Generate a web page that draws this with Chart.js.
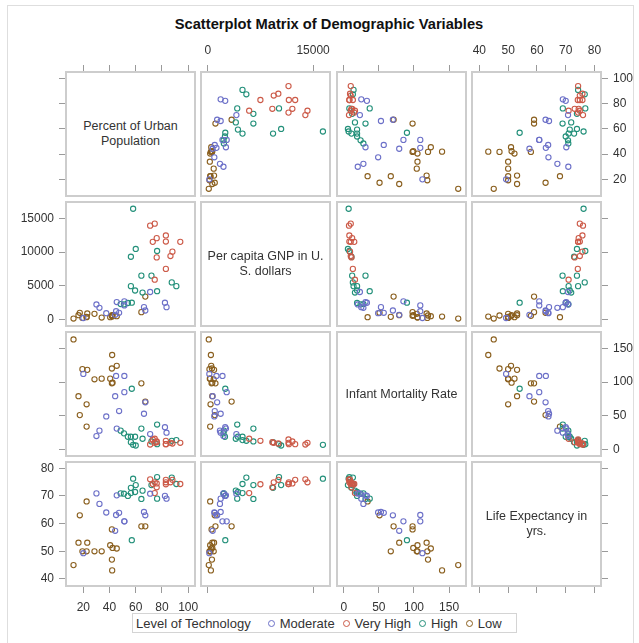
<!DOCTYPE html>
<html>
<head>
<meta charset="utf-8">
<script src="https://cdn.jsdelivr.net/npm/chart.js@4.4.1/dist/chart.umd.min.js"></script>
<style>
  body { margin: 0; width: 639px; height: 643px; overflow: hidden; background: #fff;
         font-family: 'Liberation Sans', Arial, sans-serif; position: relative; }
  #frame { position: absolute; left: 7px; top: 5px; width: 625px; height: 640px; border: 1px solid #dedede; }
  #title { position: absolute; left: 0; top: 16px; width: 658px; text-align: center;
           font-weight: bold; font-size: 14.7px; color: #111; }
  .panel { position: absolute; box-sizing: border-box; border: 2px solid #cdcdcd; }
  .diag { position: absolute; display: flex; align-items: center; justify-content: center;
          text-align: center; font-size: 12.5px; line-height: 15px; color: #333; }
  canvas { position: absolute; }
  #legend { position: absolute; left: 132px; top: 613px; width: 385px; height: 20px; box-sizing: border-box;
            border: 1px solid #d4d4d4; display: flex; align-items: center; font-size: 13px; color: #333; }
  #legend .ttl { margin-left: 3px; margin-right: 17px; }
  #legend .item { display: flex; align-items: center; margin-right: 8px; }
  #legend .mk { width: 5px; height: 5px; border-radius: 50%; border: 1.2px solid; margin-right: 5px; }
</style>
</head>
<body>
<div id="frame"></div>
<div id="title">Scatterplot Matrix of Demographic Variables</div>
<div id="legend"></div>
<script>
// one row per country, grouped by level of technology
const urban = [
  20, 30, 32.3, 37.5, 45.5, 47.3, 45, 44.3, 51.3, 51.3, 66.3, 67.3, 82.3, 83.5, 71,
  71, 74.5, 83, 83, 94, 76, 73, 88, 86.5, 76, 83, 74.5,
  58, 60, 56.3, 76.3, 64.3, 72, 87.5, 91, 56.3, 59.5, 65.2, 76.3, 54, 51, 48.5, 57,
  12.5, 16.3, 17.3, 22.5, 19.3, 23, 22.5, 28.5, 34, 40.5, 41.8, 42.3, 45.5, 41.8, 42, 64.3, 67.3
];
const gnp = [
  230, 2240, 1740, 940, 2590, 1000, 1240, 700, 2700, 2100, 1840, 1340, 2490, 1840, 4080,
  13900, 14200, 12450, 11550, 11500, 12050, 11500, 10050, 9400, 9200, 7500, 5900,
  16400, 10450, 9300, 10150, 6500, 6500, 5500, 4950, 4950, 4300, 4000, 4200, 2450, 2250, 2300, 2500,
  150, 650, 1000, 350, 250, 900, 400, 850, 300, 350, 550, 650, 500, 600, 450, 1100, 3400
];
const infantMort = [
  112, 20, 28, 49, 31, 57, 109, 79, 85, 109, 53, 70, 33, 25, 23,
  7.5, 10, 8, 8, 10, 12, 15, 9, 10, 11, 13, 16,
  7, 6, 11, 8, 31, 12, 13, 14, 19, 19, 16, 37, 19, 24, 28, 90,
  163, 79, 51, 34, 119, 118, 67, 104, 105, 105, 98, 99, 124, 120, 140, 98, 71
];
const lifeExp = [
  49.3, 70.9, 67.1, 64, 70.2, 63.9, 63.1, 57.4, 60.8, 60.8, 64.2, 63, 70, 69, 70.8,
  76, 74.9, 75.8, 74.9, 74.3, 74.5, 74.3, 75.8, 74.9, 73.1, 74.2, 71,
  76.2, 73.9, 72.9, 76.8, 68.9, 73.9, 76.6, 74.3, 71, 71.4, 71.9, 69, 70, 70.8, 70.9, 54,
  45, 53.1, 63, 68, 50, 53.1, 50, 50, 50, 52.2, 57.9, 51.2, 51, 47, 43.1, 59, 59
];
const tech = [
  'Moderate', 'Moderate', 'Moderate', 'Moderate', 'Moderate', 'Moderate', 'Moderate', 'Moderate',
  'Moderate', 'Moderate', 'Moderate', 'Moderate', 'Moderate', 'Moderate', 'Moderate',
  'Very High', 'Very High', 'Very High', 'Very High', 'Very High', 'Very High',
  'Very High', 'Very High', 'Very High', 'Very High', 'Very High', 'Very High',
  'High', 'High', 'High', 'High', 'High', 'High', 'High', 'High',
  'High', 'High', 'High', 'High', 'High', 'High', 'High', 'High',
  'Low', 'Low', 'Low', 'Low', 'Low', 'Low', 'Low', 'Low', 'Low',
  'Low', 'Low', 'Low', 'Low', 'Low', 'Low', 'Low', 'Low'
];

const techLevels = ['Moderate', 'Very High', 'High', 'Low'];
const techColors = ['#6c70c8', '#cc5a48', '#23907a', '#8a5f1e'];

// tick labels
const urbanTicks = [20, 40, 60, 80, 100];
const gnpTicksX = [0, 15000];
const gnpTicksY = [0, 5000, 10000, 15000];
const mortTicks = [0, 50, 100, 150];
const lifeTicks = [40, 50, 60, 70, 80];

const varLabels = [
  ['Percent of Urban', 'Population'],
  ['Per capita GNP in U.', 'S. dollars'],
  ['Infant Mortality Rate'],
  ['Life Expectancy in', 'yrs.']
];

const vars = [
  { values: urban, min: 6, max: 106, xTicks: urbanTicks, yTicks: urbanTicks },
  { values: gnp, min: -1100, max: 17550, xTicks: gnpTicksX, yTicks: gnpTicksY },
  { values: infantMort, min: -11, max: 175.5, xTicks: mortTicks, yTicks: mortTicks },
  { values: lifeExp, min: 37.1, max: 82.6, xTicks: lifeTicks, yTicks: lifeTicks }
];

// layout of the 4x4 grid
const colX = [65, 200, 336, 471];
const rowY = [71, 201, 331, 461];
const PW = 131, PH = 126, M = 48;

Chart.defaults.font.family = "'Liberation Sans', Arial, sans-serif";
Chart.defaults.font.size = 12;
Chart.defaults.color = '#333';

function axisOpts(v, pos, showLabels, tickVals, horizontal) {
  return {
    type: 'linear',
    min: v.min,
    max: v.max,
    position: pos || (horizontal ? 'bottom' : 'left'),
    display: !!pos,
    grid: { drawOnChartArea: false, drawTicks: true, tickLength: 6, color: '#9a9a9a', tickColor: '#9a9a9a' },
    border: { display: false },
    ticks: {
      display: showLabels, autoSkip: false, maxRotation: 0, padding: horizontal ? 7 : 5, color: '#333',
      callback: val => String(val)
    },
    afterBuildTicks: s => { s.ticks = tickVals.map(t => ({ value: t })); },
    afterFit: s => {
      if (!pos) return;
      if (horizontal) s.height = M; else s.width = M;
    }
  };
}

function makePanel(r, c) {
  const box = document.createElement('div');
  box.className = 'panel';
  box.style.left = colX[c] + 'px';
  box.style.top = rowY[r] + 'px';
  box.style.width = PW + 'px';
  box.style.height = PH + 'px';
  document.body.appendChild(box);

  if (r === c) {
    const lbl = document.createElement('div');
    lbl.className = 'diag';
    lbl.style.left = colX[c] + 'px';
    lbl.style.top = rowY[r] + 'px';
    lbl.style.width = PW + 'px';
    lbl.style.height = PH + 'px';
    lbl.innerHTML = varLabels[r].join('<br>');
    document.body.appendChild(lbl);
  }

  const xPos = r === 0 ? 'top' : (r === 3 ? 'bottom' : null);
  const yPos = c === 0 ? 'left' : (c === 3 ? 'right' : null);
  if (r === c && !xPos && !yPos) return;

  const showX = (xPos === 'top' && (c === 1 || c === 3)) || (xPos === 'bottom' && (c === 0 || c === 2));
  const showY = (yPos === 'left' && (r === 1 || r === 3)) || (yPos === 'right' && (r === 0 || r === 2));

  const cv = document.createElement('canvas');
  cv.width = PW + 2 * M;
  cv.height = PH + 2 * M;
  cv.style.left = (colX[c] - M) + 'px';
  cv.style.top = (rowY[r] - M) + 'px';
  document.body.appendChild(cv);

  let datasets = [];
  if (r !== c) {
    datasets = techLevels.map((lvl, i) => {
      const pts = [];
      tech.forEach((t, k) => {
        if (t === lvl) pts.push({ x: vars[c].values[k], y: vars[r].values[k] });
      });
      return {
        label: lvl,
        data: pts,
        pointStyle: 'circle',
        pointRadius: 2.6,
        pointBorderWidth: 1.1,
        borderColor: techColors[i],
        backgroundColor: 'rgba(0,0,0,0)'
      };
    });
  }

  new Chart(cv, {
    type: 'scatter',
    data: { datasets: datasets },
    options: {
      responsive: false,
      animation: false,
      devicePixelRatio: 1,
      layout: {
        padding: {
          left: yPos === 'left' ? 0 : M,
          right: yPos === 'right' ? 0 : M,
          top: xPos === 'top' ? 0 : M,
          bottom: xPos === 'bottom' ? 0 : M
        }
      },
      plugins: { legend: { display: false }, tooltip: { enabled: false } },
      scales: {
        x: axisOpts(vars[c], xPos, showX, vars[c].xTicks, true),
        y: axisOpts(vars[r], yPos, showY, vars[r].yTicks, false)
      }
    }
  });
}

for (let r = 0; r < 4; r++) {
  for (let c = 0; c < 4; c++) makePanel(r, c);
}

// shared legend
const legend = document.getElementById('legend');
legend.innerHTML = '<span class="ttl">Level of Technology</span>' +
  techLevels.map((lvl, i) =>
    `<span class="item"><span class="mk" style="border-color:${techColors[i]}"></span>${lvl}</span>`
  ).join('');
</script>
</body>
</html>
